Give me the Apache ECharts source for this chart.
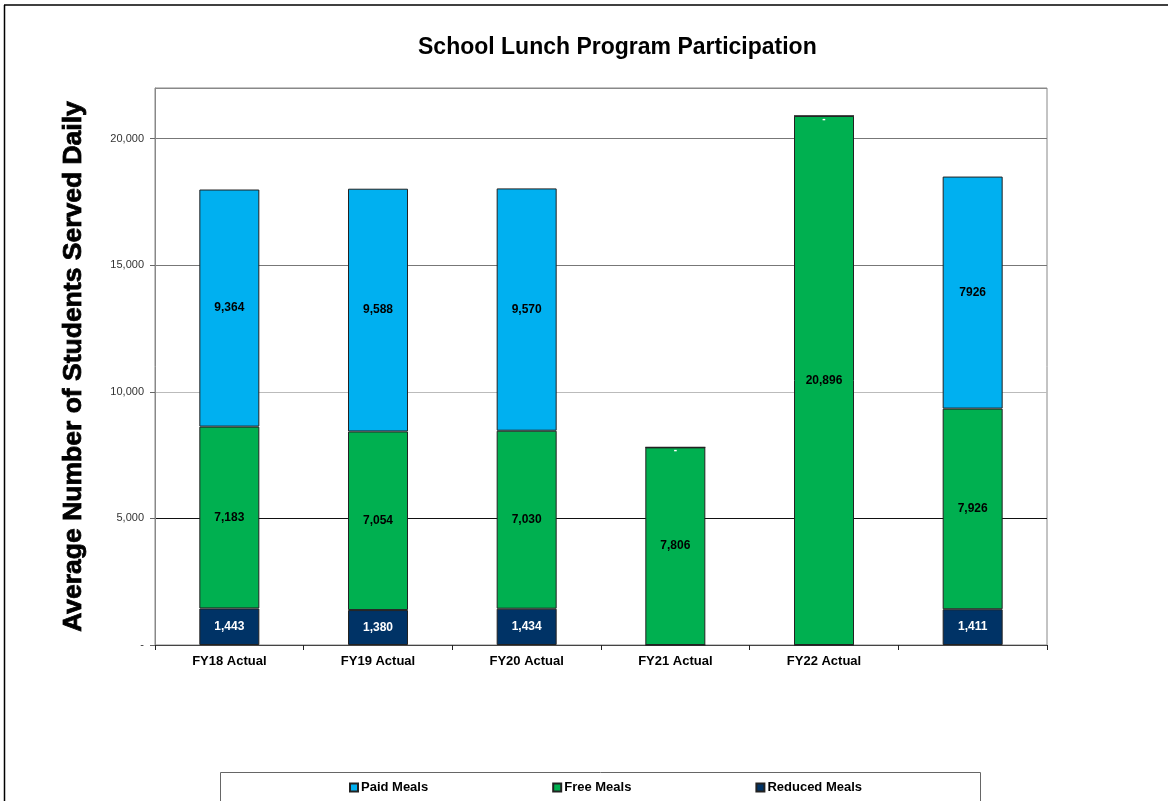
<!DOCTYPE html>
<html>
<head>
<meta charset="utf-8">
<script src="https://cdn.jsdelivr.net/npm/echarts@6/dist/echarts.min.js"></script>
<style>html,body{margin:0;padding:0;background:#fff}#c{width:1172px;height:801px}</style>
</head>
<body>
<div id="c"></div>
<script>
var categories = ['FY18 Actual', 'FY19 Actual', 'FY20 Actual', 'FY21 Actual', 'FY22 Actual', ''];
var reducedMeals = [1443, 1380, 1434, 0, 0, 1411];
var freeMeals = [7183, 7054, 7030, 7806, 20896, 7926];
var paidMeals = [9364, 9588, 9570, 0, 0, 9165];
var reducedLabels = ['1,443', '1,380', '1,434', '', '', '1,411'];
var freeLabels = ['7,183', '7,054', '7,030', '7,806', '20,896', '7,926'];
var paidLabels = ['9,364', '9,588', '9,570', '-', '-', '7926'];
var yTicks = {0: '-', 5000: '5,000', 10000: '10,000', 15000: '15,000', 20000: '20,000'};

var FONT = 'Liberation Sans, Arial, sans-serif';
var chart = echarts.init(document.getElementById('c'));
function mkLabel(arr, color, size) {
  return {
    show: true, position: 'inside', fontFamily: FONT, fontWeight: 'bold',
    fontSize: size || 12, color: color,
    formatter: function (p) { return arr[p.dataIndex]; }
  };
}
var itemBorder = {borderColor: '#222', borderWidth: 1};
chart.setOption({
  animation: false,
  textStyle: {fontFamily: FONT},
  title: {
    text: 'School Lunch Program Participation',
    left: 413, top: 31,
    textStyle: {fontFamily: FONT, fontWeight: 'bold', fontSize: 23, color: '#000'}
  },
  graphic: [
    {type: 'line', shape: {x1: 4, y1: 5, x2: 1168, y2: 5}, style: {stroke: '#000', lineWidth: 1.5}},
    {type: 'line', shape: {x1: 4.5, y1: 5, x2: 4.5, y2: 801}, style: {stroke: '#000', lineWidth: 1.5}},
    {type: 'rect', shape: {x: 220.5, y: 772.5, width: 760, height: 40}, style: {fill: 'none', stroke: '#666', lineWidth: 1}}
  ],
  legend: {
    data: ['Paid Meals', 'Free Meals', 'Reduced Meals'],
    left: 344, top: 776,
    itemWidth: 8, itemHeight: 8, itemGap: 124,
    icon: 'rect',
    textStyle: {fontFamily: FONT, fontWeight: 'bold', fontSize: 13, color: '#000', padding: [0, 0, 0, -2]}
  },
  grid: {left: 155, right: 125, top: 88, bottom: 156, show: true, borderColor: '#888', borderWidth: 1},
  xAxis: {
    type: 'category', data: categories,
    axisLine: {lineStyle: {color: '#444'}},
    axisTick: {show: true, length: 5, lineStyle: {color: '#222'}},
    axisLabel: {fontFamily: FONT, fontWeight: 'bold', fontSize: 13, color: '#000', margin: 10}
  },
  yAxis: {
    type: 'value', min: 0, max: 22000, interval: 5000,
    name: 'Average Number of Students Served Daily',
    nameLocation: 'middle', nameGap: 68,
    nameTextStyle: {fontFamily: FONT, fontWeight: 'bold', fontSize: 26.5, color: '#000',
      textBorderColor: '#000', textBorderWidth: 0.8},
    axisLine: {show: true, lineStyle: {color: '#888'}},
    axisTick: {show: true, length: 5, lineStyle: {color: '#666'}},
    axisLabel: {
      fontFamily: FONT, fontSize: 11, color: '#333', margin: 11, showMaxLabel: false,
      formatter: function (v) { return yTicks[v] !== undefined ? yTicks[v] : ''; }
    },
    splitLine: {show: true, lineStyle: {color: ['#888', '#111', '#bbb', '#777', '#777'], width: 1}}
  },
  series: [
    {name: 'Reduced Meals', type: 'bar', stack: 's', data: reducedMeals, barWidth: 60,
      itemStyle: Object.assign({color: '#003366'}, itemBorder), label: mkLabel(reducedLabels, '#fff')},
    {name: 'Free Meals', type: 'bar', stack: 's', data: freeMeals,
      itemStyle: Object.assign({color: '#00B050'}, itemBorder), label: mkLabel(freeLabels, '#000')},
    {name: 'Paid Meals', type: 'bar', stack: 's', data: paidMeals,
      itemStyle: Object.assign({color: '#00B0F0'}, itemBorder),
      label: {
        show: true, position: 'inside', fontFamily: FONT, fontWeight: 'bold', fontSize: 12,
        color: '#000',
        formatter: function (p) {
          var t = paidLabels[p.dataIndex];
          return t === '-' ? '{w|-}' : t;
        },
        rich: {w: {color: '#fff', fontFamily: FONT, fontWeight: 'bold', fontSize: 10, padding: [6, 0, 0, 0]}}
      }}
  ]
});
</script>
</body>
</html>
